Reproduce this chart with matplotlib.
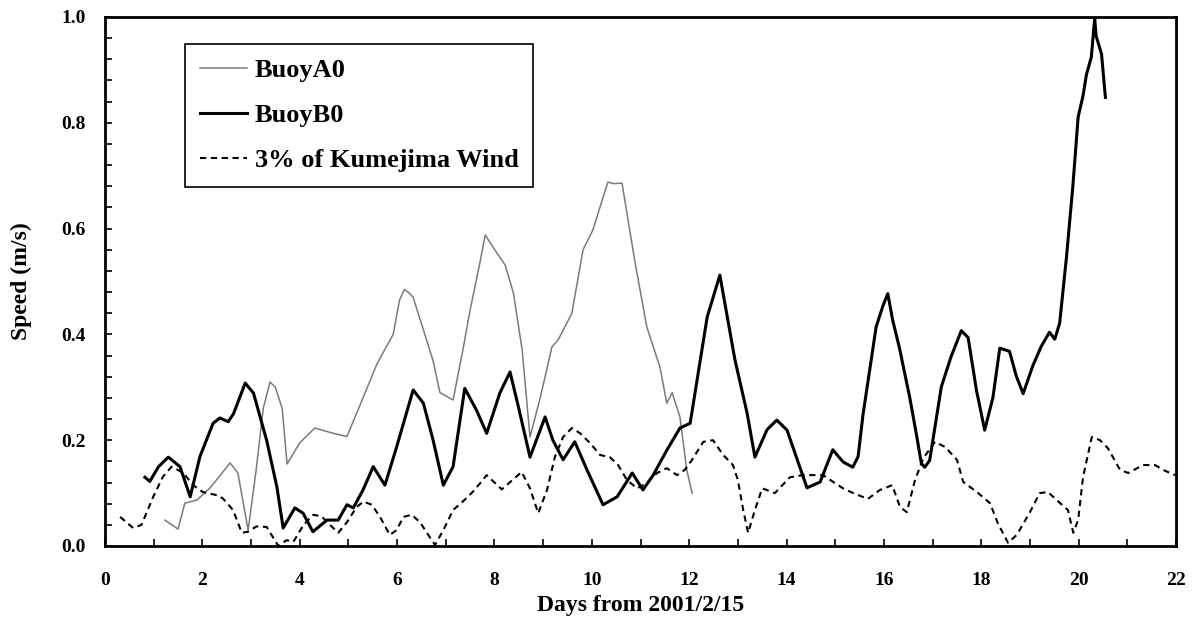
import matplotlib
matplotlib.use("Agg")
import matplotlib.pyplot as plt
from matplotlib.ticker import MultipleLocator, FormatStrFormatter

plt.rcParams["font.family"] = ["Liberation Serif", "DejaVu Serif"]
plt.rcParams["font.weight"] = "bold"

# BuoyA0 (thin gray)
days_a = [1.23, 1.5, 1.64, 1.89, 2.16, 2.57, 2.73, 2.94, 3.1, 3.25, 3.39, 3.5, 3.64, 3.74,
          4.0, 4.31, 4.69, 4.97, 5.3, 5.59, 5.92, 6.05, 6.15, 6.25, 6.33, 6.57, 6.74, 6.88,
          7.15, 7.35, 7.5, 7.70, 7.81, 7.97, 8.22, 8.39, 8.57, 8.73, 8.94, 9.18, 9.31, 9.59,
          9.82, 10.02, 10.33, 10.45, 10.62, 10.89, 11.13, 11.40, 11.54, 11.65, 11.81, 11.95, 12.06]
speed_a = [0.049, 0.032, 0.081, 0.087, 0.11, 0.157, 0.138, 0.03, 0.14, 0.26, 0.31, 0.30, 0.26, 0.155,
           0.195, 0.223, 0.213, 0.207, 0.28, 0.345, 0.40, 0.465, 0.485, 0.478, 0.47, 0.40, 0.35, 0.29,
           0.276, 0.37, 0.446, 0.535, 0.588, 0.565, 0.531, 0.478, 0.37, 0.206, 0.28, 0.376, 0.39, 0.44,
           0.56, 0.597, 0.688, 0.685, 0.686, 0.535, 0.414, 0.338, 0.27, 0.29, 0.244, 0.144, 0.10]

# BuoyB0 (thick black)
days_b = [0.82, 0.92, 1.1, 1.3, 1.54, 1.75, 1.95, 2.22, 2.36, 2.53, 2.64, 2.88, 3.05, 3.32, 3.53,
          3.66, 3.9, 4.07, 4.27, 4.56, 4.79, 4.97, 5.1, 5.3, 5.51, 5.75, 5.99, 6.33, 6.54, 6.74,
          6.95, 7.15, 7.39, 7.63, 7.84, 8.11, 8.32, 8.5, 8.73, 9.04, 9.2, 9.41, 9.65, 9.9, 10.23,
          10.52, 10.83, 11.05, 11.26, 11.54, 11.81, 12.02, 12.37, 12.63, 12.94, 13.19, 13.35, 13.6,
          13.8, 14.01, 14.42, 14.69, 14.95, 15.16, 15.36, 15.47, 15.57, 15.71, 15.84, 15.98, 16.08,
          16.18, 16.32, 16.53, 16.66, 16.77, 16.84, 16.94, 17.18, 17.38, 17.59, 17.73, 17.9, 18.07,
          18.24, 18.38, 18.58, 18.72, 18.86, 19.06, 19.23, 19.4, 19.51, 19.61, 19.75, 19.88, 19.99,
          20.09, 20.16, 20.26, 20.33, 20.36, 20.47, 20.55]
speed_b = [0.13, 0.122, 0.15, 0.168, 0.15, 0.093, 0.169, 0.232, 0.242, 0.235, 0.25, 0.308, 0.289, 0.2, 0.112,
           0.034, 0.072, 0.062, 0.027, 0.049, 0.049, 0.078, 0.072, 0.106, 0.15, 0.115, 0.187, 0.295, 0.27, 0.2,
           0.115, 0.15, 0.298, 0.257, 0.213, 0.289, 0.329, 0.26, 0.168, 0.244, 0.2, 0.163, 0.197, 0.144, 0.078,
           0.093, 0.138, 0.106, 0.134, 0.181, 0.223, 0.232, 0.433, 0.512, 0.352, 0.251, 0.168, 0.22,
           0.238, 0.219, 0.11, 0.121, 0.182, 0.159, 0.149, 0.169, 0.248, 0.334, 0.414, 0.454, 0.477,
           0.427, 0.374, 0.281, 0.215, 0.156, 0.149, 0.162, 0.301, 0.358, 0.407, 0.394, 0.295, 0.219,
           0.281, 0.374, 0.368, 0.321, 0.288, 0.341, 0.377, 0.404, 0.391, 0.421, 0.546, 0.679, 0.811,
           0.851, 0.891, 0.924, 0.997, 0.964, 0.93, 0.848]

# 3% of Kumejima wind (dashed)
days_w = [0.31, 0.58, 0.75, 0.99, 1.19, 1.37, 1.61, 1.81, 2.01, 2.3, 2.42, 2.63, 2.81, 2.94, 3.11,
          3.32, 3.46, 3.56, 3.73, 3.87, 4.08, 4.28, 4.45, 4.62, 4.79, 4.97, 5.17, 5.31, 5.48, 5.65,
          5.85, 5.99, 6.13, 6.3, 6.47, 6.64, 6.78, 6.95, 7.15, 7.35, 7.53, 7.70, 7.84, 8.15, 8.56,
          8.73, 8.9, 9.08, 9.24, 9.41, 9.59, 9.76, 9.96, 10.17, 10.37, 10.54, 10.72, 10.93, 11.13,
          11.34, 11.54, 11.75, 11.91, 12.06, 12.29, 12.49, 12.7, 12.9, 13.0, 13.11, 13.21, 13.35,
          13.5, 13.76, 14.07, 14.34, 14.75, 14.96, 15.16, 15.37, 15.67, 15.92, 16.17, 16.33, 16.47,
          16.64, 16.81, 17.05, 17.26, 17.5, 17.63, 17.91, 18.18, 18.34, 18.55, 18.73, 19.0, 19.2,
          19.37, 19.62, 19.78, 19.89, 19.99, 20.09, 20.27, 20.44, 20.6, 20.85, 21.02, 21.32, 21.57,
          21.73, 21.98]
speed_w = [0.055, 0.034, 0.04, 0.093, 0.131, 0.15, 0.138, 0.115, 0.102, 0.096, 0.09, 0.068, 0.025, 0.027, 0.037,
           0.036, 0.015, 0.0, 0.011, 0.008, 0.04, 0.059, 0.056, 0.04, 0.025, 0.045, 0.074, 0.084, 0.078, 0.055,
           0.021, 0.03, 0.055, 0.059, 0.045, 0.021, 0.002, 0.03, 0.068, 0.084, 0.1, 0.118, 0.134, 0.107, 0.14,
           0.109, 0.062, 0.106, 0.168, 0.206, 0.223, 0.213, 0.195, 0.172, 0.168, 0.153, 0.125, 0.109, 0.119,
           0.138, 0.147, 0.134, 0.144, 0.163, 0.197, 0.2, 0.172, 0.153, 0.125, 0.068, 0.025, 0.068,
           0.109, 0.1, 0.13, 0.134, 0.134, 0.121, 0.109, 0.1, 0.089, 0.106, 0.115, 0.074, 0.064,
           0.125, 0.166, 0.197, 0.187, 0.163, 0.121, 0.102, 0.081, 0.043, 0.006, 0.021, 0.064, 0.1,
           0.102, 0.081, 0.068, 0.025, 0.049, 0.13, 0.206, 0.2, 0.185, 0.144, 0.138, 0.153, 0.153,
           0.144, 0.134]

fig = plt.figure(figsize=(11.93, 6.30), dpi=100)
ax = fig.add_axes([105 / 1193, 1 - 546 / 630, 1071 / 1193, 529 / 630])

ax.plot(days_a, speed_a, color="#7a7a7a", linewidth=1.1, label="BuoyA0")
ax.plot(days_b, speed_b, color="black", linewidth=2.2, label="BuoyB0")
ax.plot(days_w, speed_w, color="black", linewidth=1.5, dashes=(3, 2.2), label="3% of Kumejima Wind")

ax.set_xlim(0, 22)
ax.set_ylim(0, 1.0)
ax.xaxis.set_major_locator(MultipleLocator(2))
ax.xaxis.set_minor_locator(MultipleLocator(1))
ax.yaxis.set_major_locator(MultipleLocator(0.2))
ax.yaxis.set_minor_locator(MultipleLocator(0.04))
ax.yaxis.set_major_formatter(FormatStrFormatter("%.1f"))

ax.tick_params(axis="both", which="both", direction="in", length=5, width=1.2)
ax.tick_params(axis="x", which="major", pad=18.5, labelsize=14)
ax.tick_params(axis="y", which="major", pad=14, labelsize=14)
for lbl in ax.get_xticklabels() + ax.get_yticklabels():
    lbl.set_fontweight("bold")

for side in ["top", "right", "bottom", "left"]:
    ax.spines[side].set_linewidth(2.0)

ax.set_xlabel("Days from 2001/2/15", fontsize=17, fontweight="bold")
ax.set_ylabel("Speed (m/s)", fontsize=17, fontweight="bold")
ax.xaxis.set_label_coords(0.5, -0.092)
ax.yaxis.set_label_coords(-0.068, 0.5)

leg = ax.legend(loc="upper left", bbox_to_anchor=(185 / 1193, 1 - 44 / 630),
                bbox_transform=fig.transFigure, borderaxespad=0, fancybox=False,
                framealpha=1, edgecolor="black", fontsize=19, handlelength=1.8,
                handletextpad=0.3, labelspacing=0.82, borderpad=0.55)
leg.get_frame().set_linewidth(1.2)
for txt in leg.get_texts():
    txt.set_fontweight("bold")

fig.savefig("out.png", dpi=100)
